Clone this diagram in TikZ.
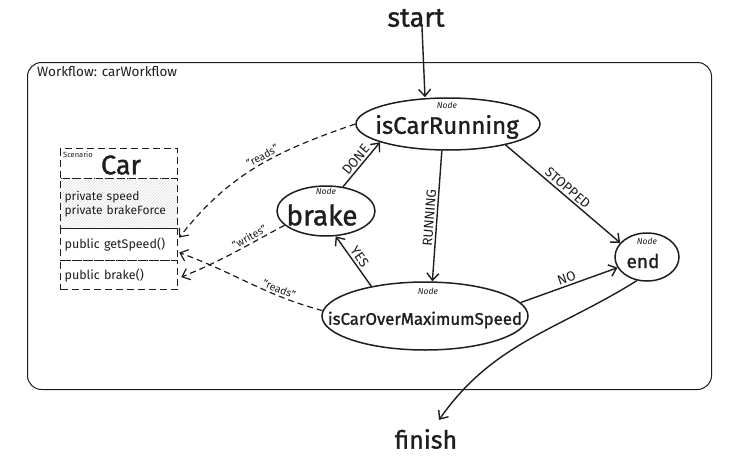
\documentclass[tikz,border=0pt]{standalone}
\usepackage{fontspec}
\setmainfont{Fira Sans}
\newfontfamily\heavyhand{Fira Sans}[FakeBold=1.2]
\usetikzlibrary{arrows.meta,shapes.geometric,patterns}
\definecolor{ink}{HTML}{1E1E1E}
\begin{document}
\begin{tikzpicture}[x=1pt,y=-1pt,
  stnode/.style={ellipse, draw=ink, line width=1.5pt, inner sep=0pt},
  tag/.style={font=\fontsize{8.5}{9}\selectfont\itshape, inner sep=0pt, text=ink},
  big/.style={inner sep=0pt, text=ink},
  arr/.style={-{Straight Barb[length=7pt,width=12pt]}, line width=1.4pt, draw=ink},
  darr/.style={arr, line width=1.2pt, dash pattern=on 6pt off 4pt},
  elab/.style={font=\fontsize{13.5}{14}\selectfont, sloped, above, inner sep=2pt, text=ink},
  dlab/.style={font=\fontsize{10.5}{11}\selectfont, sloped, above, inner sep=2pt, text=ink},
  sect/.style={draw=ink, line width=1.2pt, dash pattern=on 7pt off 4pt, minimum width=117pt, inner xsep=4pt, inner ysep=0pt, text width=109pt, align=left, anchor=north west, text=ink},
]
\useasboundingbox (0,0) rectangle (750,466);
\fill[white] (0,0) rectangle (750,466);

% frame
\node[draw=ink, line width=1pt, rounded corners=14pt, minimum width=684pt, minimum height=327pt, anchor=north west, inner sep=0pt] (frame) at (27,62) {};
\node[anchor=west, font=\fontsize{13.5}{14}\selectfont, inner sep=0pt, text=ink] (ftitle) at (37,72) {Workflow: carWorkflow};

% start / finish
\node[big, font=\heavyhand\fontsize{27}{28}\selectfont] (start) at (416,18) {start};
\node[big, font=\heavyhand\fontsize{25}{26}\selectfont] (finish) at (426,439) {finish};

% state nodes
\node[stnode, minimum width=184pt, minimum height=52pt] (icr) at (448,124) {};
\node[big, font=\heavyhand\fontsize{24}{26}\selectfont] (icrt) at (447,127) {isCarRunning};
\node[tag] (icrn) at (447,105) {Node};

\node[stnode, minimum width=98pt, minimum height=50pt] (brk) at (326,211) {};
\node[big, font=\heavyhand\fontsize{28}{30}\selectfont] (brkt) at (322,215) {brake};
\node[tag] (brkn) at (326,191) {Node};

\node[stnode, minimum width=206pt, minimum height=68pt] (iom) at (425,316) {};
\node[big, font=\heavyhand\fontsize{16.8}{20}\selectfont] (iomt) at (425,320) {isCarOverMaximumSpeed};
\node[tag] (iomn) at (428,291) {Node};

\node[stnode, minimum width=64pt, minimum height=48pt] (endn) at (647,257) {};
\node[big, font=\heavyhand\fontsize{19}{20}\selectfont] (endt) at (643,261) {end};
\node[tag] (endnn) at (647,241) {Node};

% Car scenario box
\node[sect, minimum height=30pt] (cartitle) at (60,148) {};
\node[big, font=\heavyhand\fontsize{27}{28}\selectfont] (cart) at (121,165) {Car};
\node[tag, font=\fontsize{7.5}{8}\selectfont, anchor=north west] (carscn) at (63,151) {Scenario};
\node[sect, minimum height=50pt, pattern=north east lines, pattern color=ink!15, font=\fontsize{12}{14}\selectfont] (carattr) at (60,178) {private speed\\private brakeForce};
\node[sect, minimum height=32pt, font=\fontsize{12.5}{14}\selectfont] (getspeed) at (60,228) {public getSpeed()};
\node[sect, minimum height=29pt, font=\fontsize{12.5}{14}\selectfont] (brakem) at (60,260) {public brake()};

% transitions
\draw[arr] ([xshift=6pt]start.south) -- ([xshift=-23pt]icr.north);
\draw[arr] (icr.257) -- node[elab, pos=0.52] {RUNNING} (iom.78);
\draw[arr] (icr.-20) -- node[elab] {STOPPED} (endn.152);
\draw[arr] (iom.8) -- node[elab] {NO} (endn.200);
\draw[arr] (iom.151) -- node[elab] {YES} (brk.-69);
\draw[arr] (brk.55) -- node[elab] {DONE} (icr.195);
\draw[arr] (endn.247) to[out=212, in=55] ([xshift=13pt,yshift=9pt]finish.north);

% data access
\draw[darr] (icr.180) to[out=199, in=52] node[dlab, pos=0.45] {"reads"} ([xshift=1pt,yshift=7pt]getspeed.east);
\draw[darr] (brk.199) to[out=208, in=22] node[dlab, pos=0.3] {"writes"} ([xshift=3pt,yshift=-2pt]brakem.east);
\draw[darr] (iom.177) to[out=165, in=-20] node[dlab, pos=0.3] {"reads"} ([xshift=1pt,yshift=-8pt]getspeed.east);
\end{tikzpicture}
\end{document}
